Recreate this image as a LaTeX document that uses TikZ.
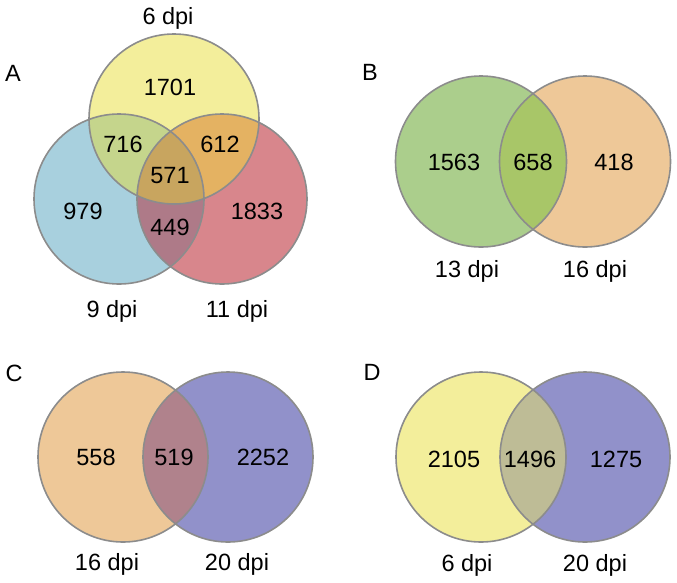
\documentclass[tikz,border=0pt]{standalone}
\usepackage{fontspec}
\setmainfont{Liberation Sans}
\definecolor{yel}{RGB}{243,238,155}
\definecolor{blu}{RGB}{168,208,222}
\definecolor{rdd}{RGB}{216,134,140}
\definecolor{ybcol}{RGB}{197,213,140}
\definecolor{yrcol}{RGB}{228,178,98}
\definecolor{brcol}{RGB}{174,122,136}
\definecolor{ybrcol}{RGB}{200,165,95}
\definecolor{grn}{RGB}{171,206,140}
\definecolor{org}{RGB}{238,200,152}
\definecolor{gocol}{RGB}{168,198,104}
\definecolor{pur}{RGB}{145,145,202}
\definecolor{opcol}{RGB}{176,130,140}
\definecolor{ypcol}{RGB}{190,188,150}
\definecolor{ringgray}{RGB}{140,140,140}
\begin{document}
\begin{tikzpicture}[x=1pt,y=-1pt,
  ring/.style={draw=ringgray,line width=1.6pt},
  txt/.style={font=\fontsize{23.5}{28}\selectfont,inner sep=0pt},
  basetxt/.style={txt,anchor=base}]
\useasboundingbox (0,0) rectangle (677,582);
\fill[white] (0,0) rectangle (677,582);

% ---------- Panel A ----------
\fill[blu] (119,199) circle (85pt);
\fill[rdd] (222,199) circle (85pt);
\fill[yel] (174,119) circle (85pt);
\begin{scope}
  \clip (119,199) circle (85pt);
  \fill[ybcol] (174,119) circle (85pt);
  \fill[brcol] (222,199) circle (85pt);
\end{scope}
\begin{scope}
  \clip (222,199) circle (85pt);
  \fill[yrcol] (174,119) circle (85pt);
\end{scope}
\begin{scope}
  \clip (119,199) circle (85pt);
  \clip (222,199) circle (85pt);
  \fill[ybrcol] (174,119) circle (85pt);
\end{scope}
\draw[ring] (119,199) circle (85pt);
\draw[ring] (222,199) circle (85pt);
\draw[ring] (174,119) circle (85pt);

\node[txt] (labA) at (13,73) {A};
\node[basetxt] (a6) at (168,24) {6 dpi};
\node[basetxt] (a9) at (112,317) {9 dpi};
\node[basetxt] (a11) at (237,317) {11 dpi};
\node[txt] (n1701) at (170,87) {1701};
\node[txt] (n716) at (123,144) {716};
\node[txt] (n612) at (220,144) {612};
\node[txt] (n571) at (170,176) {571};
\node[txt] (n979) at (83,211) {979};
\node[txt] (n1833) at (257,211) {1833};
\node[txt] (n449) at (170,227) {449};

% ---------- Panel B ----------
\fill[org] (585,161.5) circle (85.5pt);
\fill[grn] (481,161.5) circle (85.5pt);
\begin{scope}
  \clip (585,161.5) circle (85.5pt);
  \fill[gocol] (481,161.5) circle (85.5pt);
\end{scope}
\draw[ring] (585,161.5) circle (85.5pt);
\draw[ring] (481,161.5) circle (85.5pt);

\node[txt] (labB) at (370,72) {B};
\node[txt] (n1563) at (454,162) {1563};
\node[txt] (n658) at (533,162) {658};
\node[txt] (n418) at (614,162) {418};
\node[basetxt] (b13) at (467,277) {13 dpi};
\node[basetxt] (b16) at (595,277) {16 dpi};

% ---------- Panel C ----------
\fill[org] (123,457) circle (85pt);
\fill[pur] (228,457) circle (85pt);
\begin{scope}
  \clip (123,457) circle (85pt);
  \fill[opcol] (228,457) circle (85pt);
\end{scope}
\draw[ring] (123,457) circle (85pt);
\draw[ring] (228,457) circle (85pt);

\node[txt] (labC) at (14,373) {C};
\node[txt] (n558) at (96,457) {558};
\node[txt] (n519) at (174,457) {519};
\node[txt] (n2252) at (263,457) {2252};
\node[basetxt] (c16) at (107,570) {16 dpi};
\node[basetxt] (c20) at (237,570) {20 dpi};

% ---------- Panel D ----------
\fill[yel] (481,457) circle (85pt);
\fill[pur] (585,457) circle (85pt);
\begin{scope}
  \clip (481,457) circle (85pt);
  \fill[ypcol] (585,457) circle (85pt);
\end{scope}
\draw[ring] (481,457) circle (85pt);
\draw[ring] (585,457) circle (85pt);

\node[txt] (labD) at (372,372) {D};
\node[txt] (n2105) at (454,459) {2105};
\node[txt] (n1496) at (530,459) {1496};
\node[txt] (n1275) at (616,459) {1275};
\node[basetxt] (d6) at (467,571) {6 dpi};
\node[basetxt] (d20) at (595,571) {20 dpi};
\end{tikzpicture}
\end{document}
